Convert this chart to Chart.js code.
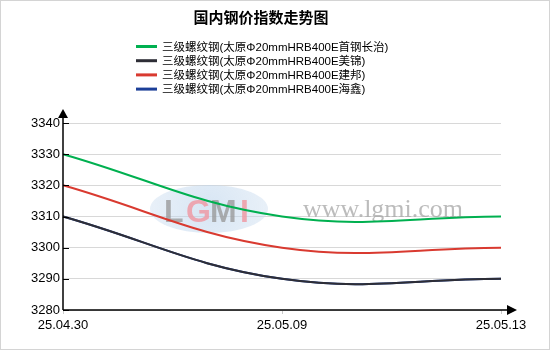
<!DOCTYPE html>
<html>
<head>
<meta charset="utf-8">
<script src="https://cdn.jsdelivr.net/npm/chart.js@4/dist/chart.umd.min.js"></script>
<style>
  html, body { margin: 0; padding: 0; background: #fff; }
  canvas { display: block; }
</style>
</head>
<body>
<canvas id="chart" width="550" height="350"></canvas>
<script>
// data
const dates = ["25.04.30", "25.05.09", "25.05.13"];
const shougangChangzhi = [3330, 3310, 3310];
const meijin = [3310, 3290, 3290];
const jianbang = [3320, 3300, 3300];
const haixin = [3310, 3290, 3290];
const seriesNames = [
  "三级螺纹钢(太原Φ20mmHRB400E首钢长治)",
  "三级螺纹钢(太原Φ20mmHRB400E美锦)",
  "三级螺纹钢(太原Φ20mmHRB400E建邦)",
  "三级螺纹钢(太原Φ20mmHRB400E海鑫)"
];
const seriesColors = ["#00b050", "#2e2e36", "#d93a30", "#1c3f98"];
const yTicks = { min: 3280, max: 3340, step: 10 };
const chartTitle = "国内钢价指数走势图";

const latin = "'Liberation Sans', Arial, 'Noto Sans CJK SC', sans-serif";

// title, legend, axes with arrows, watermark and frame
const decorations = {
  id: "decorations",
  beforeDatasetsDraw(chart) {
    const ctx = chart.ctx;
    ctx.save();
    // watermark logo
    const grad = ctx.createRadialGradient(209, 209, 5, 209, 209, 60);
    grad.addColorStop(0, "rgba(185,210,235,0.55)");
    grad.addColorStop(1, "rgba(205,222,240,0.45)");
    ctx.fillStyle = grad;
    ctx.beginPath();
    ctx.ellipse(209, 209, 59, 24, 0, 0, Math.PI * 2);
    ctx.fill();
    ctx.font = "bold 32px 'Liberation Sans', Arial, sans-serif";
    ctx.textBaseline = "alphabetic";
    ctx.textAlign = "left";
    const letters = [["L", "rgba(150,150,150,0.75)", 164], ["G", "rgba(240,150,160,0.8)", 186],
      ["M", "rgba(150,150,150,0.75)", 210], ["I", "rgba(240,150,160,0.8)", 240]];
    letters.forEach(([t, c, x]) => { ctx.fillStyle = c; ctx.fillText(t, x, 222); });
    ctx.font = "26px 'Liberation Serif', 'Times New Roman', serif";
    ctx.fillStyle = "rgba(160,160,160,0.7)";
    ctx.fillText("www.lgmi.com", 303, 217);
    ctx.restore();
  },
  afterDatasetsDraw(chart) {
    const ctx = chart.ctx;
    const area = chart.chartArea;
    const yScale = chart.scales.y;
    ctx.save();
    ctx.strokeStyle = "#000";
    ctx.fillStyle = "#000";
    ctx.lineWidth = 1.5;
    // y axis
    ctx.beginPath();
    ctx.moveTo(area.left, area.bottom);
    ctx.lineTo(area.left, 118);
    ctx.stroke();
    ctx.beginPath();
    ctx.moveTo(area.left, 109);
    ctx.lineTo(area.left - 5, 118);
    ctx.lineTo(area.left + 5, 118);
    ctx.closePath();
    ctx.fill();
    // x axis
    ctx.beginPath();
    ctx.moveTo(area.left, area.bottom);
    ctx.lineTo(507, area.bottom);
    ctx.stroke();
    ctx.beginPath();
    ctx.moveTo(517, area.bottom);
    ctx.lineTo(507, area.bottom - 5);
    ctx.lineTo(507, area.bottom + 5);
    ctx.closePath();
    ctx.fill();
    // inward tick marks on y axis
    ctx.lineWidth = 1;
    yScale.ticks.forEach(t => {
      const y = Math.round(yScale.getPixelForValue(t.value)) + 0.5;
      ctx.beginPath();
      ctx.moveTo(area.left, y);
      ctx.lineTo(area.left + 6, y);
      ctx.stroke();
    });
    ctx.restore();
  },
  afterDraw(chart) {
    const ctx = chart.ctx;
    ctx.save();
    // title
    ctx.fillStyle = "#000";
    ctx.font = "bold 15px 'Noto Sans CJK SC', sans-serif";
    ctx.textAlign = "center";
    ctx.textBaseline = "middle";
    ctx.fillText(chartTitle, 261, 17);
    // legend
    ctx.textAlign = "left";
    ctx.font = "11.5px " + latin;
    chart.data.datasets.forEach((ds, i) => {
      const y = 46.5 + i * 14.2;
      ctx.strokeStyle = ds.borderColor;
      ctx.lineWidth = 3;
      ctx.beginPath();
      ctx.moveTo(136, y);
      ctx.lineTo(157, y);
      ctx.stroke();
      ctx.fillStyle = "#000";
      ctx.fillText(ds.label, 162, y + 1);
    });
    // frame
    ctx.strokeStyle = "#d4d4d4";
    ctx.lineWidth = 1;
    ctx.strokeRect(0.5, 0.5, 549, 349);
    ctx.restore();
  }
};

const seriesValues = [shougangChangzhi, meijin, jianbang, haixin];

new Chart(document.getElementById("chart"), {
  type: "line",
  data: {
    labels: dates,
    datasets: seriesValues.map((vals, i) => ({
      label: seriesNames[i],
      data: vals,
      borderColor: seriesColors[i],
      backgroundColor: seriesColors[i],
      borderWidth: 2,
      pointRadius: 0,
      tension: 0.4,
      fill: false
    }))
  },
  options: {
    responsive: false,
    animation: false,
    layout: { padding: { top: 123, left: 18, right: 49, bottom: 16 } },
    plugins: {
      legend: { display: false },
      title: { display: false },
      tooltip: { enabled: false }
    },
    scales: {
      x: {
        offset: false,
        afterFit(scale) { scale.height = 24; },
        border: { display: false },
        grid: { drawOnChartArea: false, drawTicks: true, tickLength: 4, color: "#c8c8c8" },
        ticks: { color: "#000", font: { family: latin, size: 13 }, padding: 4, maxRotation: 0, autoSkip: false }
      },
      y: {
        min: yTicks.min,
        max: yTicks.max,
        afterFit(scale) { scale.width = 45; },
        border: { display: false },
        grid: { color: "#d8d8d8", drawTicks: false },
        ticks: { stepSize: yTicks.step, color: "#000", font: { family: latin, size: 13 }, padding: 3,
          callback: v => String(v) }
      }
    }
  },
  plugins: [decorations]
});
</script>
</body>
</html>
